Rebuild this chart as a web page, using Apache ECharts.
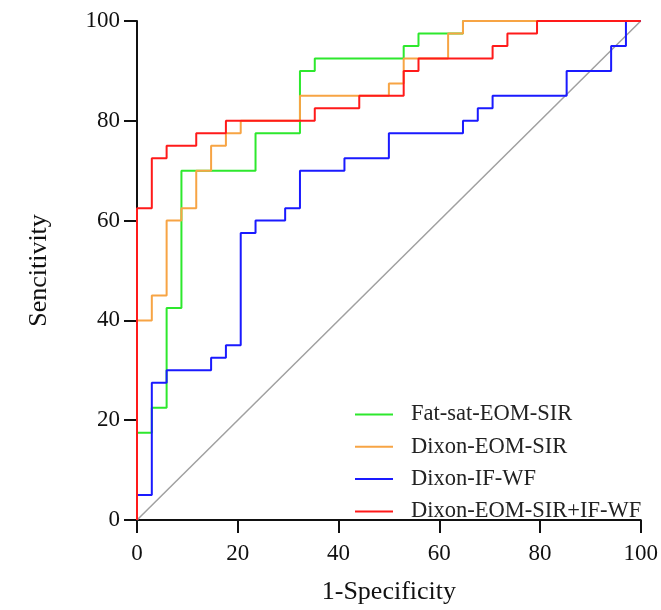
<!DOCTYPE html>
<html>
<head>
<meta charset="utf-8">
<script src="https://cdn.jsdelivr.net/npm/echarts@6/dist/echarts.min.js"></script>
<style>
html,body{margin:0;padding:0;background:#fff;}
#chart{width:661px;height:610px;}
</style>
</head>
<body>
<div id="chart"></div>
<script>
// ROC staircase corners (1-Specificity %, Sensitivity %)
const seriesNames = ["Fat-sat-EOM-SIR", "Dixon-EOM-SIR", "Dixon-IF-WF", "Dixon-EOM-SIR+IF-WF"];

const fatSatX = [0,0,2.94,2.94,5.88,5.88,8.82,8.82,23.53,23.53,32.35,32.35,35.29,35.29,52.94,52.94,55.88,55.88,64.71,64.71,100];
const fatSatY = [0,17.5,17.5,22.5,22.5,42.5,42.5,70,70,77.5,77.5,90,90,92.5,92.5,95,95,97.5,97.5,100,100];

const dixonEomX = [0,0,2.94,2.94,5.88,5.88,8.82,8.82,11.76,11.76,14.71,14.71,17.65,17.65,20.59,20.59,32.35,32.35,50,50,52.94,52.94,61.76,61.76,64.71,64.71,100];
const dixonEomY = [0,40,40,45,45,60,60,62.5,62.5,70,70,75,75,77.5,77.5,80,80,85,85,87.5,87.5,92.5,92.5,97.5,97.5,100,100];

const dixonIfX = [0,0,2.94,2.94,5.88,5.88,14.71,14.71,17.65,17.65,20.59,20.59,23.53,23.53,29.41,29.41,32.35,32.35,41.18,41.18,50,50,64.71,64.71,67.65,67.65,70.59,70.59,85.29,85.29,94.12,94.12,97.06,97.06,100];
const dixonIfY = [0,5,5,27.5,27.5,30,30,32.5,32.5,35,35,57.5,57.5,60,60,62.5,62.5,70,70,72.5,72.5,77.5,77.5,80,80,82.5,82.5,85,85,90,90,95,95,100,100];

const combX = [0,0,2.94,2.94,5.88,5.88,11.76,11.76,17.65,17.65,35.29,35.29,44.12,44.12,52.94,52.94,55.88,55.88,70.59,70.59,73.53,73.53,79.41,79.41,100];
const combY = [0,62.5,62.5,72.5,72.5,75,75,77.5,77.5,80,80,82.5,82.5,85,85,90,90,92.5,92.5,95,95,97.5,97.5,100,100];

const refX = [0,100];
const refY = [0,100];

const xTicks = [0,20,40,60,80,100];
const yTicks = [0,20,40,60,80,100];

const colors = ["#2de82d", "#f7a444", "#1a1aff", "#ff1a1a"];

function pairs(xs, ys){ return xs.map((x,i)=>[x, ys[i]]); }

const font = "Liberation Serif";
const chart = echarts.init(document.getElementById('chart'), null, {renderer:'canvas'});

const curves = [[fatSatX,fatSatY],[dixonEomX,dixonEomY],[dixonIfX,dixonIfY],[combX,combY]];

const series = [{
  name: 'ref', type: 'line', data: pairs(refX, refY), symbol: 'none',
  lineStyle: {color: '#a0a0a0', width: 1.5}, silent: true, z: 1
}];
curves.forEach((c, i) => {
  series.push({
    name: seriesNames[i], type: 'line', data: pairs(c[0], c[1]),
    symbol: 'none', showSymbol: false,
    itemStyle: {color: colors[i]},
    lineStyle: {color: colors[i], width: 2},
    z: 2 + i
  });
});

chart.setOption({
  animation: false,
  backgroundColor: '#fff',
  grid: {left: 137, right: 20, top: 21, bottom: 85},
  xAxis: {
    type: 'value', min: xTicks[0], max: xTicks[xTicks.length-1], interval: 20,
    name: '1-Specificity', nameLocation: 'middle', nameGap: 59,
    nameTextStyle: {fontFamily: font, fontSize: 26, color: '#111'},
    axisLine: {lineStyle: {color: '#111', width: 2}},
    axisTick: {show: true, length: 13, lineStyle: {color: '#111', width: 2}},
    axisLabel: {fontFamily: font, fontSize: 23, color: '#111', margin: 22},
    splitLine: {show: false}
  },
  yAxis: {
    type: 'value', min: yTicks[0], max: yTicks[yTicks.length-1], interval: 20,
    name: 'Sencitivity', nameLocation: 'middle', nameGap: 85,
    nameTextStyle: {fontFamily: font, fontSize: 26, color: '#111'},
    axisLine: {show: true, lineStyle: {color: '#111', width: 2}},
    axisTick: {show: true, length: 13, lineStyle: {color: '#111', width: 2}},
    axisLabel: {fontFamily: font, fontSize: 23, color: '#111', margin: 17},
    splitLine: {show: false}
  },
  legend: {
    data: seriesNames,
    orient: 'vertical',
    left: 350, top: 398,
    itemWidth: 38, itemHeight: 14, itemGap: 9.3,
    icon: 'path://M0,6 L38,6 L38,8 L0,8 Z',
    textStyle: {fontFamily: font, fontSize: 22.5, color: '#222', padding: [0,0,0,13]}
  },
  series: series
});
</script>
</body>
</html>
